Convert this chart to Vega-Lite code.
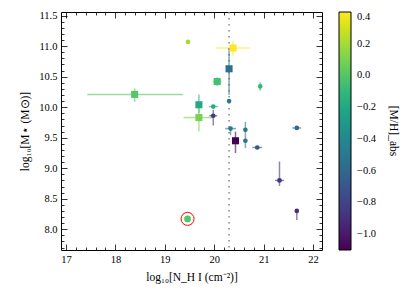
{
  "$schema": "https://vega.github.io/schema/vega-lite/v6.json",
  "width": 261,
  "height": 238,
  "autosize": {"type": "none"},
  "padding": {"left": 61, "top": 12, "right": 94, "bottom": 52},
  "background": "white",
  "config": {
    "font": "Liberation Serif",
    "view": {"stroke": "black", "strokeWidth": 1},
    "axis": {
      "labelFont": "Liberation Serif",
      "labelFontSize": 10.5,
      "labelColor": "black",
      "titleFont": "Liberation Serif",
      "titleFontSize": 11.5,
      "titleFontWeight": "normal",
      "titleColor": "black",
      "grid": false,
      "domain": false,
      "tickColor": "black",
      "tickWidth": 0.8,
      "labelOverlap": false,
      "labelFlush": false
    },
    "legend": {
      "labelFont": "Liberation Serif",
      "labelFontSize": 10.5,
      "labelColor": "black",
      "titleFont": "Liberation Serif",
      "titleFontSize": 11.5,
      "titleFontWeight": "normal",
      "titleColor": "black",
      "labelOverlap": false,
      "labelSeparation": 0
    }
  },
  "data": {
    "values": [
      {"nh": 19.47, "ms": 11.07, "mh": 0.2, "mk": "circle"},
      {"nh": 20.38, "ms": 10.97, "mh": 0.4, "mk": "square", "xlo": 20.03, "xhi": 20.72, "ylo": 10.83, "yhi": 11.08},
      {"nh": 20.30, "ms": 10.63, "mh": -0.55, "mk": "square", "ylo": 10.2, "yhi": 10.97},
      {"nh": 20.06, "ms": 10.42, "mh": -0.05, "mk": "square", "xlo": 19.97, "xhi": 20.15, "ylo": 10.35, "yhi": 10.49},
      {"nh": 20.93, "ms": 10.34, "mh": -0.1, "mk": "circle", "ylo": 10.27, "yhi": 10.41},
      {"nh": 18.39, "ms": 10.21, "mh": 0.0, "mk": "square", "xlo": 17.43, "xhi": 19.37, "ylo": 10.09, "yhi": 10.31},
      {"nh": 20.30, "ms": 10.10, "mh": -0.5, "mk": "circle"},
      {"nh": 19.69, "ms": 10.04, "mh": -0.2, "mk": "square", "xlo": 19.64, "xhi": 19.74, "ylo": 9.9, "yhi": 10.21},
      {"nh": 19.98, "ms": 10.01, "mh": -0.18, "mk": "circle", "xlo": 19.89, "xhi": 20.08},
      {"nh": 19.69, "ms": 9.83, "mh": 0.1, "mk": "square", "xlo": 19.38, "xhi": 19.98, "ylo": 9.6, "yhi": 10.0},
      {"nh": 19.98, "ms": 9.86, "mh": -0.85, "mk": "circle", "xlo": 19.9, "xhi": 20.06, "ylo": 9.7, "yhi": 9.96},
      {"nh": 20.33, "ms": 9.65, "mh": -0.5, "mk": "circle", "xlo": 20.22, "xhi": 20.44, "ylo": 9.54, "yhi": 9.65},
      {"nh": 20.63, "ms": 9.63, "mh": -0.5, "mk": "circle", "ylo": 9.56, "yhi": 9.76},
      {"nh": 20.63, "ms": 9.45, "mh": -0.52, "mk": "circle", "ylo": 9.33, "yhi": 9.56},
      {"nh": 20.43, "ms": 9.45, "mh": -1.1, "mk": "square", "ylo": 9.25, "yhi": 9.6},
      {"nh": 20.87, "ms": 9.34, "mh": -0.7, "mk": "circle", "xlo": 20.77, "xhi": 20.97},
      {"nh": 21.67, "ms": 9.66, "mh": -0.6, "mk": "circle", "xlo": 21.58, "xhi": 21.76},
      {"nh": 21.32, "ms": 8.80, "mh": -0.88, "mk": "circle", "xlo": 21.23, "xhi": 21.41, "ylo": 8.71, "yhi": 9.11},
      {"nh": 21.67, "ms": 8.30, "mh": -0.9, "mk": "circle", "ylo": 8.15, "yhi": 8.33},
      {"nh": 19.46, "ms": 8.17, "mh": 0.0, "mk": "circle", "ring": 1}
    ]
  },
  "layer": [
    {
      "data": {"values": [{"nh": 20.3}]},
      "mark": {"type": "rule", "color": "#888888", "strokeWidth": 1.5, "strokeDash": [1.5, 4.5]},
      "encoding": {
        "x": {
          "field": "nh", "type": "quantitative",
          "scale": {"domain": [16.9, 22.18], "nice": false, "zero": false},
          "axis": {
            "orient": "bottom",
            "title": "log₁₀[N_H I (cm⁻²)]",
            "values": [17,17.2,17.4,17.6,17.8,18,18.2,18.4,18.6,18.8,19,19.2,19.4,19.6,19.8,20,20.2,20.4,20.6,20.8,21,21.2,21.4,21.6,21.8,22],
            "format": ".0f",
            "labelExpr": "abs(datum.value - round(datum.value)) < 0.001 ? datum.label : ''",
            "tickSize": {"condition": {"test": "abs(datum.value - round(datum.value)) < 0.001", "value": -6}, "value": -3},
            "labelPadding": 10,
            "titlePadding": 4
          }
        }
      }
    },
    {
      "transform": [{"filter": "isValid(datum.xlo)"}],
      "mark": {"type": "rule", "strokeWidth": 1.5, "opacity": 0.6},
      "encoding": {
        "x": {
          "field": "xlo", "type": "quantitative",
          "scale": {"domain": [16.9, 22.18], "nice": false, "zero": false},
          "axis": {
            "orient": "top", "title": null, "labels": false,
            "values": [17,17.2,17.4,17.6,17.8,18,18.2,18.4,18.6,18.8,19,19.2,19.4,19.6,19.8,20,20.2,20.4,20.6,20.8,21,21.2,21.4,21.6,21.8,22],
            "tickSize": {"condition": {"test": "abs(datum.value - round(datum.value)) < 0.001", "value": -6}, "value": -3}
          }
        },
        "x2": {"field": "xhi"},
        "y": {
          "field": "ms", "type": "quantitative",
          "scale": {"domain": [7.66, 11.56], "nice": false, "zero": false},
          "axis": {
            "orient": "left",
            "title": "log₁₀[M⋆ (M⊙)]",
            "values": [7.7,7.8,7.9,8.0,8.1,8.2,8.3,8.4,8.5,8.6,8.7,8.8,8.9,9.0,9.1,9.2,9.3,9.4,9.5,9.6,9.7,9.8,9.9,10.0,10.1,10.2,10.3,10.4,10.5,10.6,10.7,10.8,10.9,11.0,11.1,11.2,11.3,11.4,11.5],
            "format": ".1f",
            "labelExpr": "abs(datum.value*2 - round(datum.value*2)) < 0.001 ? datum.label : ''",
            "tickSize": {"condition": {"test": "abs(datum.value*2 - round(datum.value*2)) < 0.001", "value": -6}, "value": -3},
            "labelPadding": 10,
            "titlePadding": 8
          }
        },
        "stroke": {"field": "mh", "type": "quantitative", "scale": {"domain": [-1.1, 0.4001], "scheme": "viridis"}, "legend": null}
      }
    },
    {
      "transform": [{"filter": "isValid(datum.ylo)"}],
      "mark": {"type": "rule", "strokeWidth": 1.5, "opacity": 0.6},
      "encoding": {
        "x": {"field": "nh", "type": "quantitative", "scale": {"domain": [16.9, 22.18], "nice": false, "zero": false}, "axis": null},
        "y": {
          "field": "ylo", "type": "quantitative",
          "scale": {"domain": [7.66, 11.56], "nice": false, "zero": false},
          "axis": {
            "orient": "right", "title": null, "labels": false,
            "values": [7.7,7.8,7.9,8.0,8.1,8.2,8.3,8.4,8.5,8.6,8.7,8.8,8.9,9.0,9.1,9.2,9.3,9.4,9.5,9.6,9.7,9.8,9.9,10.0,10.1,10.2,10.3,10.4,10.5,10.6,10.7,10.8,10.9,11.0,11.1,11.2,11.3,11.4,11.5],
            "tickSize": {"condition": {"test": "abs(datum.value*2 - round(datum.value*2)) < 0.001", "value": -6}, "value": -3}
          }
        },
        "y2": {"field": "yhi"},
        "stroke": {"field": "mh", "type": "quantitative", "scale": {"domain": [-1.1, 0.4001], "scheme": "viridis"}, "legend": null}
      }
    },
    {
      "mark": {"type": "point", "filled": true, "opacity": 1, "strokeWidth": 0},
      "encoding": {
        "x": {"field": "nh", "type": "quantitative", "scale": {"domain": [16.9, 22.18], "nice": false, "zero": false}, "axis": null},
        "y": {"field": "ms", "type": "quantitative", "scale": {"domain": [7.66, 11.56], "nice": false, "zero": false}, "axis": null},
        "shape": {"field": "mk", "type": "nominal", "scale": {"domain": ["circle", "square"], "range": ["circle", "square"]}, "legend": null},
        "size": {"condition": [{"test": "datum.mk == 'square'", "value": 50}, {"test": "datum.ring == 1", "value": 45}], "value": 22},
        "fill": {
          "field": "mh", "type": "quantitative",
          "scale": {"domain": [-1.1, 0.4], "scheme": "viridis"},
          "legend": {
            "title": "[M/H]_abs",
            "titleOrient": "right",
            "direction": "vertical",
            "gradientLength": 238,
            "gradientThickness": 12,
            "offset": 16,
            "padding": 0,
            "values": [-1.0, -0.8, -0.6, -0.4, -0.2, 0.0, 0.2, 0.4],
            "format": ".1f",
            "labelOverlap": false,
            "labelOffset": 6,
            "titlePadding": 12,
            "gradientStrokeColor": "black",
            "gradientStrokeWidth": 1
          }
        }
      }
    },
    {
      "transform": [{"filter": "datum.ring == 1"}],
      "mark": {"type": "point", "filled": false, "shape": "circle", "size": 170, "color": "#ff0000", "strokeWidth": 1, "opacity": 1},
      "encoding": {
        "x": {"field": "nh", "type": "quantitative", "scale": {"domain": [16.9, 22.18], "nice": false, "zero": false}, "axis": null},
        "y": {"field": "ms", "type": "quantitative", "scale": {"domain": [7.66, 11.56], "nice": false, "zero": false}, "axis": null}
      }
    }
  ],
  "resolve": {"axis": {"x": "independent", "y": "independent"}}
}
